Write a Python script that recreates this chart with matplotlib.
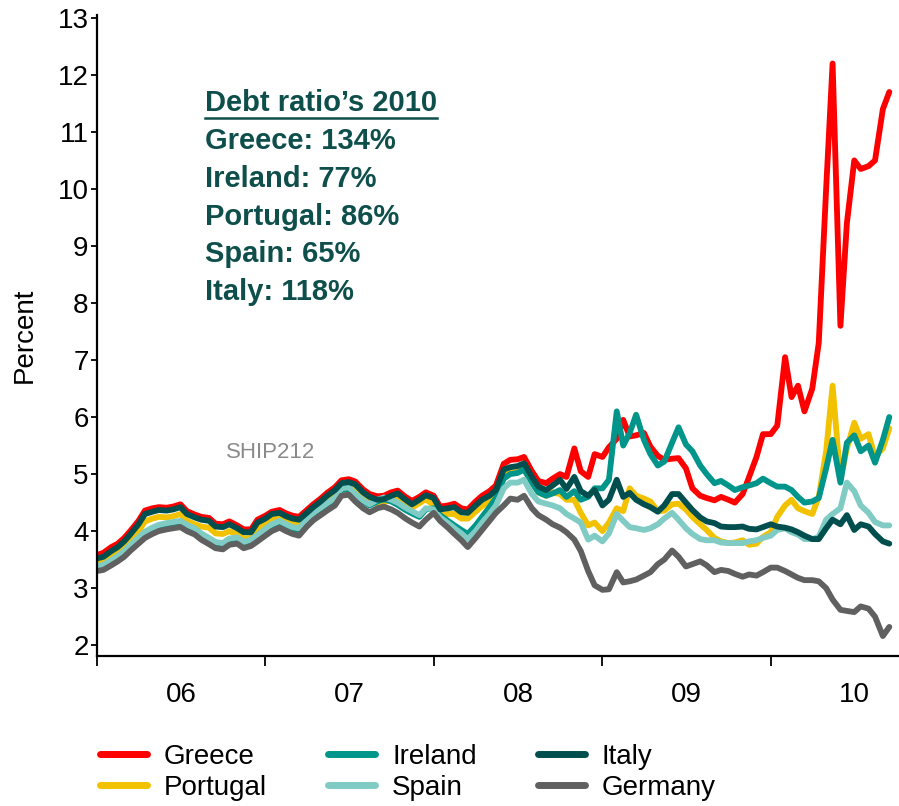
import numpy as np
import pandas as pd
import matplotlib
matplotlib.use("Agg")
import matplotlib.pyplot as plt
from matplotlib.lines import Line2D

plt.rcParams['font.family'] = ['Liberation Sans', 'DejaVu Sans']

# semi-monthly readings (1st and 15th), Jan 2006 - Sep 2010, 10y yields in percent
dates = pd.date_range("2006-01-01", "2010-09-15", freq="SMS")

greece = [
    3.58, 3.62, 3.72, 3.78, 3.88, 4.01, 4.18, 4.36, 4.40, 4.42, 4.41, 4.43, 4.47, 4.35, 4.29, 4.25, 4.23, 4.13, 4.12, 4.17, 4.10, 4.03, 4.03, 4.20,
    4.27, 4.34, 4.37, 4.31, 4.27, 4.25, 4.37, 4.47, 4.57, 4.67, 4.77, 4.89, 4.91, 4.87, 4.73, 4.65, 4.61, 4.62, 4.68, 4.71, 4.60, 4.53, 4.60, 4.68,
    4.62, 4.43, 4.45, 4.48, 4.40, 4.38, 4.52, 4.62, 4.70, 4.80, 5.18, 5.25, 5.26, 5.30, 5.05, 4.88, 4.84, 4.92, 5.00, 4.95, 5.45, 5.05, 4.95, 5.35,
    5.30, 5.47, 5.62, 5.95, 5.66, 5.68, 5.72, 5.48, 5.32, 5.25, 5.27, 5.28, 5.10, 4.75, 4.62, 4.58, 4.54, 4.60, 4.55, 4.50, 4.65, 4.95, 5.30, 5.70,
    5.70, 5.85, 7.05, 6.35, 6.55, 6.10, 6.50, 7.30, 10.00, 12.20, 7.60, 9.40, 10.50, 10.35, 10.40, 10.50, 11.40, 11.70,
]
portugal = [
    3.42, 3.45, 3.54, 3.61, 3.70, 3.83, 4.00, 4.17, 4.22, 4.25, 4.24, 4.26, 4.30, 4.18, 4.12, 4.08, 4.06, 3.96, 3.95, 4.00, 3.94, 3.87, 3.88, 4.05,
    4.15, 4.23, 4.26, 4.20, 4.16, 4.14, 4.26, 4.36, 4.46, 4.56, 4.66, 4.78, 4.80, 4.76, 4.62, 4.54, 4.49, 4.50, 4.56, 4.60, 4.49, 4.41, 4.49, 4.56,
    4.45, 4.28, 4.30, 4.30, 4.22, 4.22, 4.34, 4.44, 4.52, 4.62, 4.98, 5.02, 5.04, 5.09, 4.85, 4.68, 4.62, 4.68, 4.65, 4.55, 4.55, 4.32, 4.10, 4.15,
    4.00, 4.15, 4.40, 4.35, 4.75, 4.62, 4.57, 4.52, 4.35, 4.36, 4.47, 4.48, 4.38, 4.25, 4.12, 4.02, 3.88, 3.82, 3.79, 3.80, 3.84, 3.76, 3.78, 3.90,
    3.98, 4.25, 4.45, 4.55, 4.40, 4.35, 4.30, 4.60, 5.40, 6.55, 4.90, 5.45, 5.90, 5.62, 5.70, 5.30, 5.45, 5.80,
]
ireland = [
    3.36, 3.38, 3.46, 3.53, 3.62, 3.72, 3.85, 3.95, 4.02, 4.07, 4.10, 4.12, 4.14, 4.07, 4.01, 3.92, 3.84, 3.77, 3.75, 3.83, 3.85, 3.77, 3.81, 3.89,
    4.01, 4.09, 4.15, 4.09, 4.04, 4.02, 4.18, 4.29, 4.38, 4.46, 4.55, 4.72, 4.74, 4.62, 4.52, 4.45, 4.52, 4.56, 4.52, 4.46, 4.37, 4.31, 4.25, 4.38,
    4.40, 4.28, 4.18, 4.10, 4.02, 3.95, 4.10, 4.25, 4.42, 4.58, 4.92, 5.00, 5.02, 5.08, 4.85, 4.68, 4.62, 4.66, 4.72, 4.60, 4.70, 4.55, 4.60, 4.75,
    4.75, 4.90, 6.10, 5.50, 5.72, 6.04, 5.60, 5.35, 5.15, 5.22, 5.55, 5.82, 5.52, 5.40, 5.15, 5.00, 4.84, 4.88, 4.80, 4.72, 4.77, 4.80, 4.84, 4.92,
    4.84, 4.78, 4.78, 4.72, 4.60, 4.50, 4.52, 4.58, 5.10, 5.60, 4.85, 5.55, 5.68, 5.40, 5.50, 5.20, 5.60, 6.00,
]
spain = [
    3.39, 3.41, 3.49, 3.56, 3.65, 3.76, 3.89, 3.99, 4.06, 4.11, 4.14, 4.16, 4.18, 4.11, 4.05, 3.96, 3.88, 3.81, 3.79, 3.87, 3.89, 3.81, 3.85, 3.93,
    4.04, 4.12, 4.18, 4.12, 4.07, 4.05, 4.21, 4.32, 4.41, 4.49, 4.58, 4.75, 4.77, 4.65, 4.54, 4.47, 4.55, 4.59, 4.55, 4.50, 4.41, 4.35, 4.28, 4.40,
    4.38, 4.24, 4.14, 4.05, 3.96, 3.86, 4.00, 4.15, 4.30, 4.45, 4.75, 4.85, 4.85, 4.90, 4.65, 4.52, 4.48, 4.45, 4.40, 4.30, 4.22, 4.15, 3.85, 3.92,
    3.82, 3.96, 4.30, 4.18, 4.07, 4.05, 4.02, 4.05, 4.12, 4.22, 4.32, 4.20, 4.05, 3.95, 3.86, 3.84, 3.84, 3.80, 3.79, 3.79, 3.79, 3.82, 3.84, 3.88,
    3.92, 4.02, 4.05, 3.98, 3.94, 3.86, 3.86, 3.90, 4.20, 4.30, 4.40, 4.85, 4.70, 4.45, 4.32, 4.16, 4.10, 4.10,
]
italy = [
    3.52, 3.55, 3.65, 3.72, 3.82, 3.95, 4.12, 4.30, 4.34, 4.37, 4.36, 4.38, 4.42, 4.30, 4.24, 4.20, 4.18, 4.08, 4.07, 4.12, 4.05, 3.98, 3.98, 4.15,
    4.22, 4.30, 4.32, 4.26, 4.22, 4.20, 4.32, 4.42, 4.52, 4.62, 4.72, 4.84, 4.86, 4.82, 4.68, 4.60, 4.55, 4.56, 4.62, 4.66, 4.55, 4.47, 4.55, 4.63,
    4.58, 4.38, 4.40, 4.42, 4.33, 4.32, 4.45, 4.55, 4.62, 4.72, 5.08, 5.12, 5.14, 5.19, 4.95, 4.78, 4.72, 4.80, 4.90, 4.74, 4.95, 4.70, 4.62, 4.72,
    4.45, 4.55, 4.90, 4.60, 4.67, 4.55, 4.47, 4.42, 4.34, 4.45, 4.65, 4.65, 4.50, 4.37, 4.24, 4.17, 4.14, 4.08, 4.07, 4.07, 4.08, 4.04, 4.03, 4.07,
    4.12, 4.08, 4.06, 4.03, 3.98, 3.92, 3.86, 3.86, 4.05, 4.20, 4.12, 4.28, 4.02, 4.12, 4.08, 3.95, 3.82, 3.78,
]
germany = [
    3.30, 3.32, 3.40, 3.47, 3.55, 3.66, 3.78, 3.88, 3.95, 4.00, 4.03, 4.05, 4.07, 4.00, 3.94, 3.85, 3.77, 3.70, 3.68, 3.76, 3.78, 3.70, 3.74, 3.82,
    3.92, 4.00, 4.06, 4.00, 3.95, 3.92, 4.08, 4.19, 4.28, 4.36, 4.45, 4.62, 4.64, 4.52, 4.40, 4.33, 4.40, 4.43, 4.38, 4.32, 4.22, 4.15, 4.08, 4.20,
    4.32, 4.18, 4.06, 3.95, 3.84, 3.72, 3.88, 4.02, 4.18, 4.32, 4.45, 4.57, 4.55, 4.62, 4.40, 4.28, 4.20, 4.12, 4.06, 3.98, 3.85, 3.65, 3.30, 3.05,
    2.97, 2.98, 3.28, 3.10, 3.12, 3.15, 3.22, 3.28, 3.42, 3.50, 3.66, 3.55, 3.38, 3.42, 3.47, 3.40, 3.28, 3.32, 3.30, 3.25, 3.20, 3.24, 3.22, 3.28,
    3.36, 3.36, 3.30, 3.24, 3.18, 3.14, 3.14, 3.12, 3.00, 2.80, 2.62, 2.60, 2.58, 2.68, 2.64, 2.50, 2.16, 2.32,
]

names = ["Greece", "Portugal", "Ireland", "Spain", "Italy", "Germany"]
colors = ["#FF0000", "#F2C200", "#00958A", "#80CBC4", "#004F4E", "#606060"]
series = [greece, portugal, ireland, spain, italy, germany]

box_title = "Debt ratio\u2019s 2010"
box_lines = ["Greece: 134%", "Ireland: 77%", "Portugal: 86%", "Spain: 65%", "Italy: 118%"]
year_labels = ["06", "07", "08", "09", "10"]

W, H = 899, 806
fig = plt.figure(figsize=(W / 100, H / 100), dpi=100)
ax = fig.add_axes([97 / W, 1 - 656 / H, 1 - 97 / W, (656 - 15) / H])

for name, col, vals in zip(names, colors, series):
    ax.plot(dates, vals, color=col, lw=4.2, label=name, solid_capstyle="round", solid_joinstyle="round")

ax.set_ylim(1.81, 13.05)
ax.set_yticks(range(2, 14))
ax.set_xlim(pd.Timestamp("2006-01-01"), pd.Timestamp("2010-10-06"))

years = [pd.Timestamp(f"{y}-01-01") for y in range(2006, 2011)]
mids = [pd.Timestamp(f"{y}-07-02") for y in range(2006, 2011)]
ax.set_xticks(years)
ax.set_xticklabels([])
ax.set_xticks(mids, minor=True)
ax.set_xticklabels(year_labels, minor=True)

for s in ["top", "right"]:
    ax.spines[s].set_visible(False)
for s in ["left", "bottom"]:
    ax.spines[s].set_linewidth(1.6)

ax.tick_params(axis="y", direction="out", length=4, width=1.3, labelsize=20, pad=2)
ax.tick_params(axis="x", which="major", direction="out", length=7, width=1.3)
ax.tick_params(axis="x", which="minor", length=0, labelsize=20, pad=19)
ax.set_ylabel("Percent", fontsize=20, labelpad=14)

txt_col = "#0F4F4B"
t = fig.text(205 / W, 1 - 103 / H, box_title, fontsize=21, fontweight="bold", color=txt_col, va="center")
for k, line in enumerate(box_lines):
    fig.text(205 / W, 1 - (141 + 37.8 * k) / H, line, fontsize=21, fontweight="bold", color=txt_col, va="center")

fig.text(271 / W, 1 - 453 / H, "SHIP212", fontsize=16, color="#8A8A8A", ha="center", va="center")

fig.legend(loc="lower left", bbox_to_anchor=(100 / W, 0.006), ncol=3, frameon=False,
           fontsize=20, handlelength=1.7, handletextpad=0.6, columnspacing=2.2,
           labelspacing=0.2, borderpad=0, borderaxespad=0)
for lh in fig.legends[0].get_lines():
    lh.set_linewidth(5)

# underline the box title
fig.canvas.draw()
bb = t.get_window_extent(renderer=fig.canvas.get_renderer())
uy = bb.y0 - 1
fig.add_artist(Line2D([bb.x0 / W, bb.x1 / W], [uy / H, uy / H], color=txt_col, lw=1.8,
                      transform=fig.transFigure))

fig.savefig("out.png", dpi=100)
